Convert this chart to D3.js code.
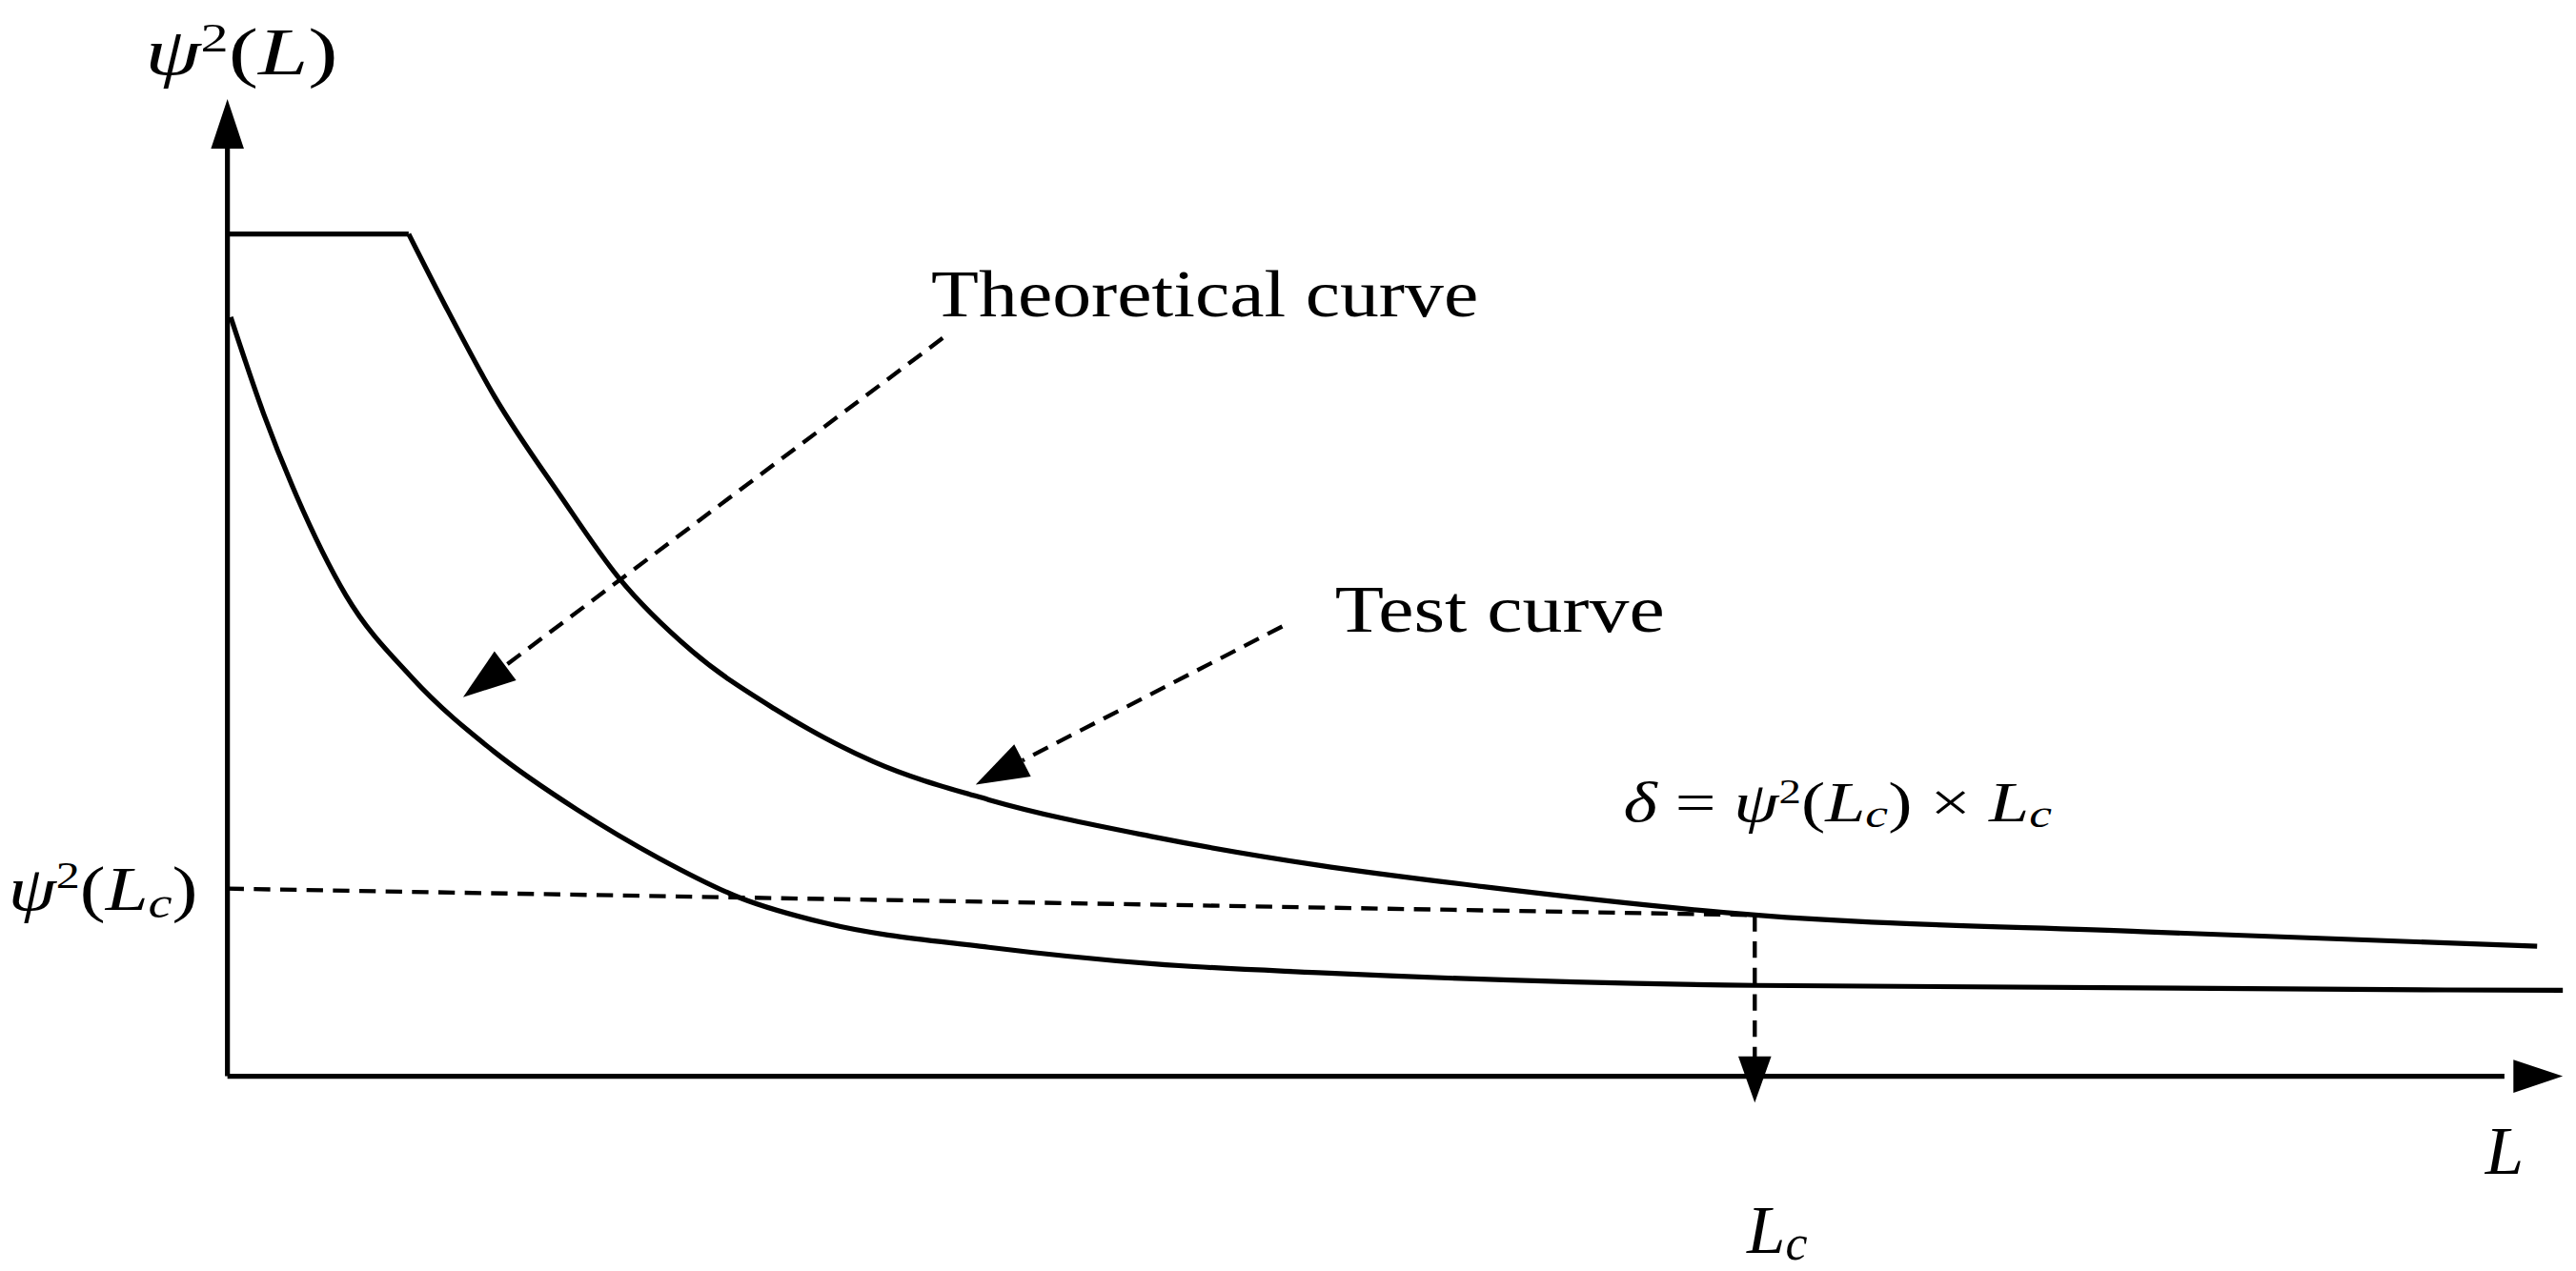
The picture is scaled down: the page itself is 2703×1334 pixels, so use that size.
<!DOCTYPE html>
<html><head><meta charset="utf-8">
<script src="https://cdn.jsdelivr.net/npm/d3@7"></script>
<style>html,body{margin:0;padding:0;background:#fff}</style>
</head><body>
<script>
const testX = [0, 7.76, 9.32, 11.43, 14.26, 16.73, 19.9, 23.43, 27.66, 32.6, 39.66, 46.72, 53.78, 65.43, 82.0, 98.9];
const testY = [86.2, 86.2, 78.9, 69.6, 59.4, 51.1, 43.5, 37.6, 32.2, 28.3, 24.5, 21.6, 19.4, 16.5, 14.8, 13.3];
const theoX = [0.14, 1.55, 2.96, 5.08, 7.9, 11.43, 14.96, 18.49, 22.02, 25.55, 32.6, 39.66, 46.72, 65.43, 100];
const theoY = [77.7, 67.8, 59.4, 49.2, 40.8, 33.2, 27.3, 22.3, 18.2, 15.7, 13.2, 11.5, 10.6, 9.3, 8.8];
const Lc = 65.4, psiLc = 19.2, psiLcEnd = 16.5;

const svg = d3.select("body").append("svg").attr("width",2703).attr("height",1334)
  .attr("viewBox","0 0 1563 771");
const x = d3.scaleLinear().domain([0,100]).range([138,1555]);
const y = d3.scaleLinear().domain([0,100]).range([653,60]);
const line = d3.line().x(d=>x(d[0])).y(d=>y(d[1]));
const curve = d3.line().x(d=>x(d[0])).y(d=>y(d[1])).curve(d3.curveMonotoneX);
const test = testX.map((v,i)=>[v,testY[i]]), theo = theoX.map((v,i)=>[v,theoY[i]]);
const g = svg.append("g").attr("fill","none").attr("stroke","#000");
g.append("path").attr("d",line([[0,0],[0,95]])).attr("stroke-width",3);
g.append("path").attr("d",line([[0,0],[97.5,0]])).attr("stroke-width",3);
svg.append("path").attr("d",`M${x(0)},${y(100)} L${x(0)-10},${y(100)+30} L${x(0)+10},${y(100)+30}Z`);
svg.append("path").attr("d",`M${x(100)},${y(0)} L${x(100)-30},${y(0)-10} L${x(100)-30},${y(0)+10}Z`);
g.append("path").attr("d",line(test.slice(0,2))).attr("stroke-width",3);
g.append("path").attr("d",curve(test.slice(1))).attr("stroke-width",3);
g.append("path").attr("d",curve(theo)).attr("stroke-width",3);
const dash="10,6";
g.append("path").attr("d",line([[0,psiLc],[Lc,psiLcEnd]])).attr("stroke-width",2.5).attr("stroke-dasharray",dash);
g.append("path").attr("d",line([[Lc,psiLcEnd],[Lc,-0.5]])).attr("stroke-width",2.5).attr("stroke-dasharray",dash);
svg.append("path").attr("d",`M${x(Lc)},${y(0)+16} L${x(Lc)-10},${y(0)-12} L${x(Lc)+10},${y(0)-12}Z`);
function arrow(x1,y1,x2,y2){
  const ang=Math.atan2(y2-y1,x2-x1), len=32, hw=11;
  const bx=x2-len*Math.cos(ang), by=y2-len*Math.sin(ang);
  g.append("line").attr("x1",x1).attr("y1",y1).attr("x2",bx).attr("y2",by).attr("stroke-width",2.5).attr("stroke-dasharray",dash);
  svg.append("path").attr("d",`M${x2},${y2} L${bx-hw*Math.sin(ang)},${by+hw*Math.cos(ang)} L${bx+hw*Math.sin(ang)},${by-hw*Math.cos(ang)}Z`);
}
arrow(572,205,281,423);
arrow(778,380,592,476);
const t = svg.append("g").attr("font-family","'Liberation Serif', serif").attr("fill","#000");
t.append("text").attr("x",565).attr("y",192).attr("font-size",40).attr("textLength",332).attr("lengthAdjust","spacingAndGlyphs").text("Theoretical curve");
t.append("text").attr("x",810).attr("y",383).attr("font-size",40).attr("textLength",200).attr("lengthAdjust","spacingAndGlyphs").text("Test curve");
function psi(sel,xx,yy,fs,arg,sub,len){
  const tx=sel.append("text").attr("x",xx).attr("y",yy).attr("font-size",fs).attr("textLength",len).attr("lengthAdjust","spacingAndGlyphs");
  tx.append("tspan").attr("font-style","italic").text("ψ");
  tx.append("tspan").attr("font-size",fs*0.62).attr("dy",-fs*0.35).text("2");
  tx.append("tspan").attr("dy",fs*0.35).text("(");
  tx.append("tspan").attr("font-style","italic").text(arg);
  if(sub){tx.append("tspan").attr("font-style","italic").attr("font-size",fs*0.7).attr("dy",fs*0.12).text(sub);
    tx.append("tspan").attr("dy",-fs*0.12).text(")");}
  else tx.append("tspan").text(")");
  return tx;
}
psi(t,88,45,40,"L",null,117);
psi(t,5,552,38,"L","c",115);
const d = t.append("text").attr("x",985).attr("y",498).attr("font-size",34).attr("textLength",260).attr("lengthAdjust","spacingAndGlyphs");
d.append("tspan").attr("font-style","italic").text("δ");
d.append("tspan").text(" = ");
d.append("tspan").attr("font-style","italic").text("ψ");
d.append("tspan").attr("font-size",21).attr("dy",-11).text("2");
d.append("tspan").attr("dy",11).text("(");
d.append("tspan").attr("font-style","italic").text("L");
d.append("tspan").attr("font-style","italic").attr("font-size",24).attr("dy",4).text("c");
d.append("tspan").attr("dy",-4).text(") × ");
d.append("tspan").attr("font-style","italic").text("L");
d.append("tspan").attr("font-style","italic").attr("font-size",24).attr("dy",4).text("c");
t.append("text").attr("x",1508).attr("y",712).attr("font-size",42).attr("font-style","italic").text("L");
const lc=t.append("text").attr("x",1060).attr("y",760).attr("font-size",42).attr("font-style","italic");
lc.append("tspan").text("L"); lc.append("tspan").attr("font-size",30).attr("dy",4).text("c");
</script>
</body></html>
